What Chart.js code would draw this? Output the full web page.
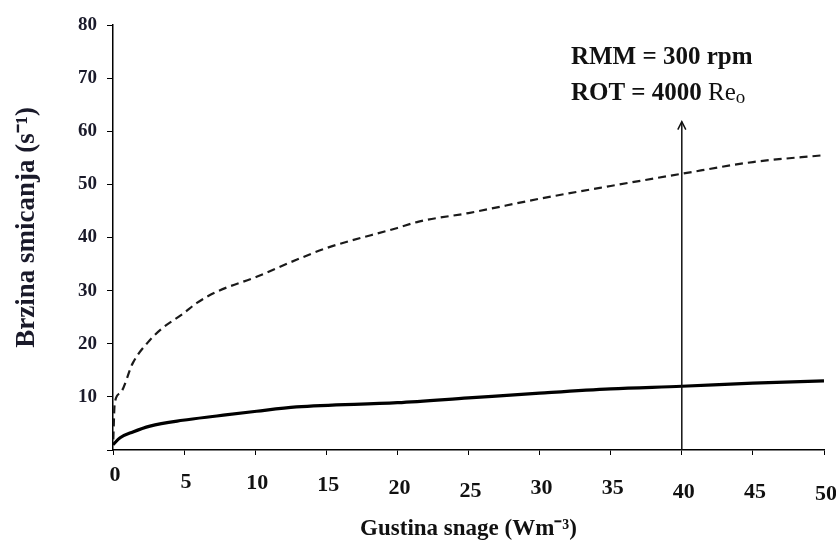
<!DOCTYPE html>
<html><head><meta charset="utf-8">
<script src="https://cdn.jsdelivr.net/npm/chart.js@4/dist/chart.umd.min.js"></script>
<style>html,body{margin:0;padding:0;background:#fff}#wrap{width:836px;height:543px;position:relative}</style>
</head><body><div id="wrap"><canvas id="c" width="836" height="543"></canvas></div>
<script>
const xTicks = [0,5,10,15,20,25,30,35,40,45,50];
const yTicks = [0,10,20,30,40,50,60,70,80];
const rotX = [0.02,0.12,0.5,1.4,2.6,3.5,4.9,5.9,7.3,10.1,12.9,15,20,21.5,25,30,35,40,45,50];
const rotY = [2,8.8,10.7,16.4,20.7,23,25.6,27.7,29.8,32.6,35.8,38,41.8,43,44.6,47.3,49.7,52,54.2,55.5];
const rmmX = [0,0.5,1.4,2.6,4.9,7.3,10.1,12.9,20,25,30,35,40,45,50];
const rmmY = [1.0,2.3,3.4,4.5,5.6,6.4,7.3,8.1,8.9,9.8,10.7,11.5,12.0,12.6,13.0];
const arrowX = 40, arrowTop = 61.8;
const label1 = "RMM = 300 rpm";
const label2a = "ROT = 4000 ", label2b = "Re", label2c = "o";
const xTitle = "Gustina snage (Wm\u207B\u00B3)";
const yTitle = "   Brzina smicanja (s\u207B\u00B9)";

const pts = (xs, ys) => xs.map((x,i)=>({x, y: ys[i]}));
const SERIF = "'Liberation Serif','Times New Roman',serif";
// style: per-label vertical drop (line-height factor) of the x tick labels
const xLabelLH = [1.73,2.36,2.45,2.64,2.9,3.18,2.9,2.9,3.27,3.27,3.45];

const annot = {
  id:'annot',
  afterDatasetsDraw(chart){
    const {ctx, scales:{x,y}} = chart;
    const px = x.getPixelForValue(arrowX);
    const py0 = y.getPixelForValue(0), py1 = y.getPixelForValue(arrowTop);
    ctx.save();
    ctx.strokeStyle = '#111'; ctx.lineWidth = 1.5;
    ctx.beginPath(); ctx.moveTo(px, py0); ctx.lineTo(px, py1); ctx.stroke();
    ctx.beginPath(); ctx.moveTo(px-4, py1+8); ctx.lineTo(px, py1); ctx.lineTo(px+4, py1+8); ctx.stroke();
    ctx.fillStyle = '#111';
    ctx.textBaseline = 'alphabetic'; ctx.textAlign = 'left';
    const tx = x.getPixelForValue(32.2);
    ctx.font = "bold 25px " + SERIF;
    ctx.fillText(label1, tx, y.getPixelForValue(72.6));
    const b2 = y.getPixelForValue(65.8);
    ctx.fillText(label2a, tx, b2);
    let w = ctx.measureText(label2a).width;
    ctx.font = "25px " + SERIF;
    ctx.fillText(label2b, tx + w, b2);
    w += ctx.measureText(label2b).width;
    ctx.font = "19px " + SERIF;
    ctx.fillText(label2c, tx + w, b2 + 3);
    ctx.restore();
  }
};

new Chart(document.getElementById('c'), {
  type: 'line',
  data: {
    datasets: [
      {label:'ROT', data: pts(rotX, rotY), borderColor:'#1a1a1a', borderWidth:2.2, borderDash:[8,5], pointRadius:0, cubicInterpolationMode:'monotone', fill:false},
      {label:'RMM', data: pts(rmmX, rmmY), borderColor:'#000', borderWidth:3.2, pointRadius:0, cubicInterpolationMode:'monotone', fill:false}
    ]
  },
  options: {
    responsive:false, animation:false, devicePixelRatio:1,
    layout:{padding:{left:0, top:25, right:12, bottom:0}},
    plugins:{legend:{display:false}, tooltip:{enabled:false}},
    scales:{
      x:{type:'linear', min:0, max:50,
        afterBuildTicks(s){ s.ticks = xTicks.map(v=>({value:v})); },
        afterFit(s){ s.height = 93; },
        grid:{drawOnChartArea:false, drawTicks:true, tickLength:5, color:'#000', lineWidth:1},
        border:{color:'#000', width:1.5},
        ticks:{color:'#111', padding:1, labelOffset:2, maxRotation:0, autoSkip:false,
          font:(c)=>({family:SERIF, weight:'bold', size:22, lineHeight: xLabelLH[c.index] ?? 2.5})},
        title:{display:true, text:xTitle, color:'#111', padding:{top:0,bottom:0}, font:{family:SERIF, weight:'bold', size:23}}
      },
      y:{type:'linear', min:0, max:80,
        afterBuildTicks(s){ s.ticks = yTicks.map(v=>({value:v})); },
        afterFit(s){ s.width = 113; },
        grid:{drawOnChartArea:false, drawTicks:true, tickLength:6, color:'#000', lineWidth:1},
        border:{color:'#000', width:1.5},
        ticks:{color:'#1a1a2a', padding:10, autoSkip:false, font:{family:SERIF, weight:'bold', size:19}, callback:v=> v===0 ? '' : String(v)},
        title:{display:true, text:yTitle, color:'#1a1a2a', padding:{top:11,bottom:0}, font:{family:SERIF, weight:'bold', size:27}}
      }
    }
  },
  plugins:[annot]
});
</script></body></html>
